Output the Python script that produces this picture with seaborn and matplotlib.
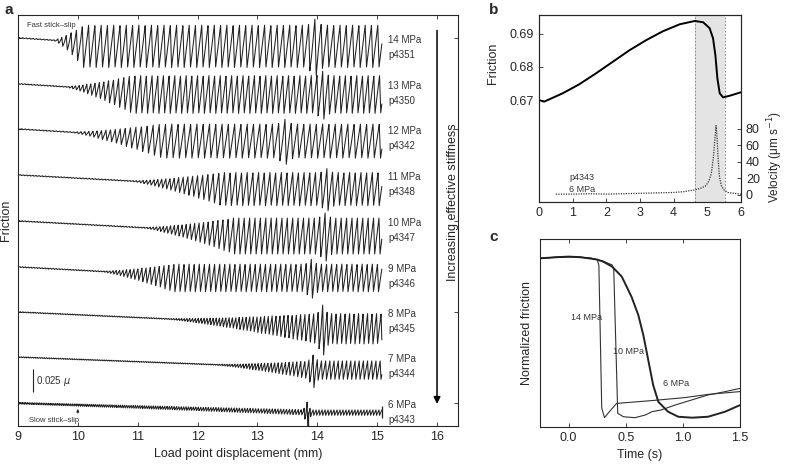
import numpy as np
import pandas as pd
import seaborn as sns
import matplotlib.pyplot as plt

sns.set_style('ticks')
plt.rcParams['font.family'] = ['Liberation Sans', 'DejaVu Sans']
plt.rcParams['xtick.direction'] = 'in'
plt.rcParams['ytick.direction'] = 'in'
plt.rcParams['axes.linewidth'] = 0.8

# ---- panel a : stick-slip records ----
pressures = [14, 13, 12, 11, 10, 9, 8, 7, 6]
runs = ['p4351', 'p4350', 'p4342', 'p4348', 'p4347', 'p4346', 'p4345', 'p4344', 'p4343']
base = [0.422, 0.372, 0.323, 0.273, 0.223, 0.173, 0.124, 0.075, 0.025]     # friction level at 9 mm (offset)
drift = [0.0043, 0.004, 0.004, 0.0035, 0.0035, 0.0035, 0.003, 0.0025, 0.002]  # mu per mm
onset = [9.6, 9.8, 9.9, 10.9, 11.1, 10.4, 11.5, 12.3, 9.0]      # first wiggles (mm)
full = [10.1, 10.9, 11.4, 12.4, 12.6, 11.6, 14.0, 13.9, 13.9]    # full amplitude reached (mm)
amp = [0.046, 0.041, 0.037, 0.036, 0.039, 0.030, 0.033, 0.020, 0.006]  # peak-to-trough (mu)
floor_amp = [0.001, 0.001, 0.001, 0.001, 0.001, 0.001, 0.001, 0.001, 0.002]
period = [0.105, 0.095, 0.105, 0.095, 0.09, 0.085, 0.075, 0.07, 0.05]  # mm per cycle
event_x = [13.96, 14.09, 13.46, 14.16, 14.13, 13.90, 14.09, 13.93, 13.83]
event_gain = [1.35, 1.3, 1.35, 1.3, 1.35, 1.45, 1.7, 1.8, 4.5]
x_end = 15.08

# ---- panel b : p4343 single event ----
tb = [0, 0.15, 0.7, 1.19, 1.69, 2.19, 2.69, 3.18, 3.68, 4.18, 4.63, 4.88, 5.07, 5.17,
      5.24, 5.30, 5.37, 5.47, 5.67, 5.99]
fb = [0.6700, 0.6695, 0.6720, 0.6747, 0.6780, 0.6815, 0.6850, 0.6880, 0.6907, 0.6928,
      0.6938, 0.6934, 0.6916, 0.6886, 0.6835, 0.6765, 0.6720, 0.6708, 0.6713, 0.6723]
tv = [0.5, 1.0, 1.5, 2.0, 2.5, 3.0, 3.5, 4.0, 4.3, 4.6, 4.8, 4.95, 5.05, 5.12, 5.18,
      5.22, 5.26, 5.29, 5.32, 5.36, 5.42, 5.5, 5.6, 5.8, 6.0]
vb = [1, 1, 1.5, 1, 1.5, 2, 2.5, 3, 4, 6, 8, 11, 17, 26, 45, 65, 84, 70, 45, 22, 11, 6, 3, 2, 1]
slip_window = [4.63, 5.52]

# ---- panel c : normalized friction drops ----
t14 = [-0.25, -0.1, 0.0, 0.1, 0.2, 0.25, 0.265, 0.29, 0.314, 0.35, 0.42, 0.727, 1.017, 1.22, 1.5]
n14 = [0.897, 0.903, 0.905, 0.903, 0.897, 0.890, 0.86, 0.10, 0.048, 0.075, 0.124, 0.139, 0.155, 0.172, 0.187]
t10 = [-0.25, -0.1, 0.0, 0.1, 0.2, 0.3, 0.38, 0.395, 0.43, 0.48, 0.58, 0.67, 0.73, 0.81, 0.93,
       1.075, 1.22, 1.34, 1.5]
n10 = [0.897, 0.903, 0.905, 0.903, 0.897, 0.882, 0.862, 0.84, 0.071, 0.053, 0.048, 0.062, 0.080,
       0.089, 0.115, 0.142, 0.169, 0.183, 0.204]
t6 = [-0.25, -0.1, 0.0, 0.1, 0.2, 0.25, 0.3, 0.38, 0.465, 0.55, 0.61, 0.654, 0.70, 0.74, 0.785,
      0.87, 0.96, 1.08, 1.22, 1.37, 1.5]
n6 = [0.897, 0.903, 0.906, 0.903, 0.895, 0.89, 0.88, 0.853, 0.80, 0.693, 0.595, 0.488, 0.346,
      0.222, 0.133, 0.08, 0.053, 0.048, 0.053, 0.08, 0.115]

line_col = '#222222'
fig = plt.figure(figsize=(7.88, 4.67), dpi=100)

# ================= a =================
ax = fig.add_axes([0.0228, 0.0878, 0.5584, 0.880])
x = np.arange(9.0, x_end, 0.002)
for i in range(len(pressures)):
    ramp = np.clip((x - onset[i]) / (full[i] - onset[i]), 0, 1)
    env = floor_amp[i] + (amp[i] - floor_amp[i]) * ramp ** 1.3
    env = env * (1 + (event_gain[i] - 1) * np.exp(-((x - event_x[i]) / (0.8 * period[i])) ** 2))
    per = period[i] * (0.55 + 0.45 * ramp)
    phase = np.cumsum(np.gradient(x) / per)
    phase = phase - np.interp(event_x[i], x, phase) + 0.8  # big slip lines up with a peak
    ph = phase % 1
    saw = np.where(ph < 0.8, ph / 0.8, (1 - ph) / 0.2)
    center = base[i] - drift[i] * (np.minimum(x, full[i]) - 9)
    y = center + env * (saw - 0.6)
    d = pd.DataFrame({'disp': x, 'fric': y})
    sns.lineplot(data=d, x='disp', y='fric', ax=ax, color=line_col, lw=0.75,
                 estimator=None, sort=False)
    ax.text(15.18, base[i] - 0.002, f'{pressures[i]} MPa', fontsize=7, va='center', color='#333333')
    ax.text(15.18, base[i] - 0.019, runs[i], fontsize=7, va='center', color='#333333')

# 6 MPa: big drop down to the axis and end marker
c6 = base[-1] - drift[-1] * (full[-1] - 9)
ax.vlines(event_x[-1] + 0.01, 0, c6, color=line_col, lw=0.9)
ax.vlines(x_end, c6 - 0.007, c6 + 0.006, color=line_col, lw=0.9)
ax.annotate('', xy=(10, base[-1] - drift[-1] - 0.0015), xytext=(10, base[-1] - drift[-1] - 0.012),
            arrowprops=dict(arrowstyle='-|>', color=line_col, lw=0.6, mutation_scale=4))
ax.text(9.18, 0.0065, 'Slow stick\u2013slip', fontsize=5.5, va='center', color='#333333')
ax.text(9.15, 0.435, 'Fast stick\u2013slip', fontsize=5.5, va='center', color='#333333')

# scale bar
ax.vlines(9.25, 0.037, 0.062, color=line_col, lw=0.8)
ax.text(9.3, 0.049, '0.025 $\\mu$', fontsize=7, va='center', color='#333333')

# stiffness arrow
ax.annotate('', xy=(16.0, 0.021), xytext=(16.0, 0.433),
            arrowprops=dict(arrowstyle='-|>', color='k', lw=1.1, mutation_scale=10))
ax.text(16.27, 0.243, 'Increasing effective stiffness', rotation=90, fontsize=9,
        ha='center', va='center', color='#222222')

ax.set_xlim(9, 16.35)
ax.set_ylim(0, 0.4467)
ax.set_xticks(range(9, 17))
ax.set_yticks([0.025, 0.124, 0.223, 0.323, 0.422])
ax.tick_params(axis='x', top=True, labelsize=9, length=3, width=0.6)
ax.tick_params(axis='y', right=True, labelleft=False, length=3, width=0.6)
ax.set_xlabel('Load point displacement (mm)', fontsize=9)
ax.set_ylabel('Friction', fontsize=9)
ax.yaxis.set_label_coords(-0.014, 0.5)

# ================= b =================
axb = fig.add_axes([0.684, 0.5675, 0.2563, 0.4004])
axb.axvspan(slip_window[0], slip_window[1], color='#e4e4e4', lw=0)
for xv in slip_window:
    axb.axvline(xv, color='#777777', lw=0.6, ls=(0, (2, 2)))
sns.lineplot(x=tb, y=fb, ax=axb, color='k', lw=1.4)
axb.set_xlim(0, 6)
axb.set_ylim(0.6393, 0.6956)
axb.set_yticks([0.67, 0.68, 0.69])
axb.set_yticklabels(['0.67', '0.68', '0.69'])
axb.set_xticks(range(0, 7))
axb.tick_params(labelsize=9, length=3, width=0.6)
axb.set_ylabel('Friction', fontsize=9)
axb.yaxis.set_label_coords(-0.2, 0.74)
axb.text(0.15, 0.1, 'p4343\n6 MPa', transform=axb.transAxes, fontsize=6.5,
         va='center', linespacing=1.5, color='#333333')

axv = axb.twinx()
sns.lineplot(x=tv, y=vb, ax=axv, color='#333333', lw=0.9, ls=(0, (1, 1)))
axv.set_ylim(-8.5, 218)
axv.set_yticks([0, 20, 40, 60, 80])
axv.tick_params(labelsize=9, length=3, width=0.6, direction='in')
axv.set_ylabel('Velocity (\u03bcm s$^{-1}$)', fontsize=8.5)
axv.yaxis.set_label_coords(1.12, 0.24)

# ================= c =================
axc = fig.add_axes([0.6853, 0.0863, 0.2538, 0.402])
sns.lineplot(x=t14, y=n14, ax=axc, color='#333333', lw=0.8)
sns.lineplot(x=t10, y=n10, ax=axc, color='#333333', lw=0.8)
sns.lineplot(x=t6, y=n6, ax=axc, color='#222222', lw=1.4)
axc.text(0.02, 0.58, '14 MPa', fontsize=6.5, va='center', color='#333333')
axc.text(0.39, 0.40, '10 MPa', fontsize=6.5, va='center', color='#333333')
axc.text(0.83, 0.23, '6 MPa', fontsize=6.5, va='center', color='#333333')
axc.set_xlim(-0.25, 1.5)
axc.set_ylim(0, 1)
axc.set_xticks([0.0, 0.5, 1.0, 1.5])
axc.set_xticklabels(['0.0', '0.5', '1.0', '1.5'])
axc.set_yticks([])
axc.tick_params(axis='x', top=True, labelsize=9, length=3, width=0.6)
axc.set_xlabel('Time (s)', fontsize=9)
axc.set_ylabel('Normalized friction', fontsize=9)
axc.yaxis.set_label_coords(-0.035, 0.5)

fig.text(0.006, 0.979, 'a', fontsize=11, fontweight='bold', va='center')
fig.text(0.6206, 0.979, 'b', fontsize=11, fontweight='bold', va='center')
fig.text(0.6206, 0.4925, 'c', fontsize=11, fontweight='bold', va='center')

fig.savefig('out.png', dpi=100)
